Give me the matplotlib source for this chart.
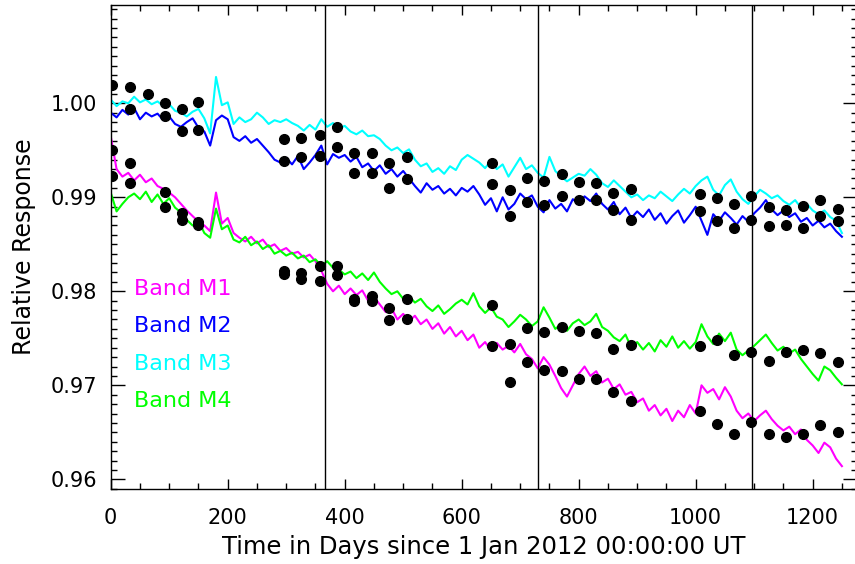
import numpy as np
import matplotlib
matplotlib.use('Agg')
import matplotlib.pyplot as plt
from matplotlib.ticker import MultipleLocator, FixedLocator, FormatStrFormatter

# daily samples read every 10 days (day 0 .. 1250)
days = np.arange(0, 1251, 10)

m1 = [0.9965, 0.9930, 0.9922, 0.9926, 0.9918, 0.9924, 0.9916, 0.9920, 0.9912, 0.9909,
      0.9905, 0.9900, 0.9893, 0.9886, 0.9880, 0.9874, 0.9870, 0.9864, 0.9905, 0.9872,
      0.9878, 0.9862, 0.9857, 0.9853, 0.9858, 0.9851, 0.9855, 0.9847, 0.9850, 0.9843,
      0.9846, 0.9840, 0.9842, 0.9836, 0.9839, 0.9832, 0.9822, 0.9808, 0.9800, 0.9806,
      0.9797, 0.9803, 0.9796, 0.9801, 0.9790, 0.9794, 0.9786, 0.9778, 0.9782, 0.9770,
      0.9776, 0.9768, 0.9774, 0.9765, 0.9770, 0.9760, 0.9766, 0.9755, 0.9762, 0.9752,
      0.9758, 0.9748, 0.9754, 0.9740, 0.9746, 0.9737, 0.9745, 0.9738, 0.9742, 0.9735,
      0.9744, 0.9733, 0.9728, 0.9718, 0.9730, 0.9722, 0.9710, 0.9697, 0.9688, 0.9700,
      0.9712, 0.9720, 0.9710, 0.9715, 0.9703, 0.9707, 0.9696, 0.9701, 0.9690, 0.9693,
      0.9682, 0.9686, 0.9673, 0.9679, 0.9668, 0.9675, 0.9662, 0.9673, 0.9666, 0.9679,
      0.9670, 0.9700, 0.9692, 0.9696, 0.9685, 0.9698, 0.9688, 0.9673, 0.9665, 0.9670,
      0.9662, 0.9668, 0.9673, 0.9664, 0.9657, 0.9652, 0.9656, 0.9648, 0.9653, 0.9642,
      0.9636, 0.9628, 0.9639, 0.9634, 0.9622, 0.9614]

m2 = [0.9990, 0.9985, 0.9993, 0.9988, 0.9995, 0.9983, 0.9990, 0.9986, 0.9989, 0.9982,
      0.9986, 0.9978, 0.9975, 0.9980, 0.9984, 0.9974, 0.9970, 0.9955, 0.9982, 0.9987,
      0.9983, 0.9964, 0.9960, 0.9965, 0.9958, 0.9962, 0.9955, 0.9948, 0.9940, 0.9937,
      0.9942, 0.9935, 0.9944, 0.9930, 0.9937, 0.9945, 0.9955, 0.9935, 0.9946, 0.9942,
      0.9945, 0.9938, 0.9943, 0.9932, 0.9936, 0.9928, 0.9934, 0.9925, 0.9930, 0.9922,
      0.9928, 0.9920, 0.9912, 0.9905, 0.9915, 0.9908, 0.9912, 0.9904, 0.9909, 0.9902,
      0.9910, 0.9906, 0.9912, 0.9903, 0.9892, 0.9899, 0.9885, 0.9900, 0.9887, 0.9893,
      0.9904, 0.9898, 0.9902, 0.9890, 0.9884, 0.9897, 0.9888, 0.9893, 0.9885, 0.9898,
      0.9893, 0.9901, 0.9896, 0.9904, 0.9893, 0.9887, 0.9895, 0.9882, 0.9889, 0.9878,
      0.9885, 0.9879, 0.9887, 0.9876, 0.9883, 0.9872, 0.9880, 0.9886, 0.9873, 0.9881,
      0.9890, 0.9875, 0.9860, 0.9882, 0.9875, 0.9884, 0.9878, 0.9871, 0.9880, 0.9874,
      0.9883, 0.9889, 0.9897, 0.9887, 0.9881, 0.9886, 0.9879, 0.9883, 0.9874, 0.9878,
      0.9870, 0.9875, 0.9868, 0.9872, 0.9864, 0.9858]

m3 = [1.0004, 0.9997, 1.0002, 1.0000, 1.0007, 1.0001, 1.0004, 0.9999, 1.0002, 0.9997,
      0.9999, 0.9992, 0.9990, 0.9986, 0.9991, 0.9994, 0.9984, 0.9968, 1.0028, 0.9998,
      1.0001, 0.9978, 0.9985, 0.9980, 0.9983, 0.9990, 0.9985, 0.9978, 0.9982, 0.9980,
      0.9983, 0.9979, 0.9976, 0.9971, 0.9977, 0.9972, 0.9983, 0.9975, 0.9979, 0.9973,
      0.9976, 0.9970, 0.9967, 0.9971, 0.9965, 0.9966, 0.9962, 0.9955, 0.9950, 0.9953,
      0.9947, 0.9951, 0.9940, 0.9933, 0.9936, 0.9927, 0.9931, 0.9925, 0.9933, 0.9929,
      0.9940, 0.9945, 0.9941, 0.9937, 0.9931, 0.9939, 0.9930, 0.9935, 0.9922, 0.9932,
      0.9942, 0.9930, 0.9934, 0.9926, 0.9921, 0.9943, 0.9928, 0.9922, 0.9917, 0.9921,
      0.9925, 0.9923, 0.9930, 0.9924, 0.9915, 0.9911, 0.9918, 0.9912, 0.9906, 0.9900,
      0.9903, 0.9897, 0.9902, 0.9899, 0.9906, 0.9901, 0.9896, 0.9903, 0.9909, 0.9904,
      0.9912, 0.9918, 0.9922, 0.9908, 0.9902, 0.9913, 0.9919, 0.9906, 0.9898, 0.9893,
      0.9901, 0.9908, 0.9904, 0.9899, 0.9902, 0.9896, 0.9892, 0.9897, 0.9889, 0.9893,
      0.9886, 0.9882, 0.9886, 0.9879, 0.9875, 0.9862]

m4 = [0.9905, 0.9885, 0.9893, 0.9900, 0.9904, 0.9898, 0.9906, 0.9895, 0.9903, 0.9893,
      0.9899, 0.9889, 0.9884, 0.9876, 0.9870, 0.9875, 0.9862, 0.9857, 0.9888, 0.9866,
      0.9870, 0.9855, 0.9852, 0.9858, 0.9849, 0.9853, 0.9845, 0.9849, 0.9840, 0.9843,
      0.9838, 0.9841, 0.9835, 0.9838, 0.9831, 0.9834, 0.9827, 0.9832, 0.9825, 0.9823,
      0.9818, 0.9821, 0.9814, 0.9819, 0.9812, 0.9820, 0.9810, 0.9803, 0.9797, 0.9800,
      0.9792, 0.9795, 0.9788, 0.9792, 0.9784, 0.9779, 0.9785, 0.9776, 0.9781, 0.9787,
      0.9791, 0.9786, 0.9798, 0.9784, 0.9777, 0.9783, 0.9773, 0.9770, 0.9762, 0.9768,
      0.9775, 0.9770, 0.9763, 0.9768, 0.9783, 0.9772, 0.9760, 0.9765, 0.9758, 0.9766,
      0.9770, 0.9764, 0.9768, 0.9776, 0.9762, 0.9758, 0.9751, 0.9747, 0.9754, 0.9740,
      0.9746, 0.9738, 0.9745, 0.9736, 0.9748, 0.9741, 0.9752, 0.9740, 0.9747, 0.9739,
      0.9746, 0.9765, 0.9752, 0.9744, 0.9755, 0.9747, 0.9756, 0.9738, 0.9732, 0.9737,
      0.9742, 0.9748, 0.9754, 0.9745, 0.9737, 0.9741, 0.9734, 0.9738, 0.9728, 0.9720,
      0.9712, 0.9705, 0.9720, 0.9716, 0.9708, 0.9701]

# lunar calibration points (black dots)
dot_days = [3, 33, 63, 92, 121, 150, 297, 326, 357, 386, 416, 446, 476, 506, 652, 682,
            712, 741, 771, 800, 830, 859, 889, 1007, 1036, 1065, 1095, 1125, 1155, 1184,
            1213, 1243]
nan = np.nan
dot_m3 = [1.0019, 1.0017, 1.0010, 1.0000, 0.9994, 1.0001, 0.9962, 0.9963, 0.9966, 0.9975,
          0.9947, 0.9947, 0.9937, 0.9943, 0.9937, 0.9908, 0.9921, 0.9917, 0.9925, 0.9916,
          0.9915, 0.9905, 0.9909, 0.9904, 0.9899, 0.9893, 0.9901, 0.9890, 0.9887, 0.9891,
          0.9897, 0.9888]
dot_m2 = [nan, 0.9994, nan, 0.9987, 0.9970, 0.9972, 0.9939, 0.9943, 0.9944, 0.9954,
          0.9926, 0.9926, 0.9910, 0.9919, 0.9914, 0.9880, 0.9895, 0.9892, 0.9901, 0.9897,
          0.9897, 0.9886, 0.9876, 0.9885, 0.9875, 0.9867, 0.9876, 0.9869, 0.9870, 0.9867,
          0.9880, 0.9875]
dot_m4 = [0.9950, 0.9936, nan, 0.9906, 0.9883, 0.9874, 0.9822, 0.9819, 0.9827, 0.9827,
          0.9792, 0.9795, 0.9782, 0.9792, 0.9785, 0.9744, 0.9761, 0.9757, 0.9762, 0.9758,
          0.9756, 0.9739, 0.9743, 0.9742, 0.9748, 0.9732, 0.9735, 0.9726, 0.9735, 0.9738,
          0.9734, 0.9725]
dot_m1 = [0.9923, 0.9915, nan, 0.9890, 0.9876, 0.9871, 0.9818, 0.9813, 0.9811, 0.9817,
          0.9790, 0.9790, 0.9769, 0.9771, 0.9742, 0.9703, 0.9725, 0.9716, 0.9715, 0.9707,
          0.9707, 0.9693, 0.9683, 0.9673, 0.9659, 0.9648, 0.9661, 0.9648, 0.9645, 0.9648,
          0.9658, 0.9650]

year_marks = [366, 731, 1096]
bands = ['Band M1', 'Band M2', 'Band M3', 'Band M4']
colors = ['#ff00ff', '#0000ff', '#00ffff', '#00ff00']
ytick_vals = [0.96, 0.97, 0.98, 0.99, 1.00]

plt.rcParams['font.family'] = ['DejaVu Sans']

fig = plt.figure(figsize=(8.55, 5.64), dpi=100)
ax = fig.add_axes([0.1295, 0.133, 0.8723, 0.8582])

for series, col in zip([m1, m2, m3, m4], colors):
    ax.plot(days, series, color=col, lw=1.5)

for yr in year_marks:
    ax.axvline(yr, color='black', lw=1.0)

for dots in [dot_m3, dot_m2, dot_m4, dot_m1]:
    ax.plot(dot_days, dots, 'o', color='black', ms=7, zorder=5)

# legend as coloured labels
leg_y = [0.9802, 0.9763, 0.9723, 0.9683]
for txt, col, yy in zip(bands, colors, leg_y):
    ax.text(39, yy, txt, color=col, fontsize=16, va='center', ha='left')

ax.set_xlim(0, 1275)
ax.set_ylim(0.95897, 1.01046)
ax.xaxis.set_major_locator(MultipleLocator(200))
ax.xaxis.set_minor_locator(MultipleLocator(50))
ax.yaxis.set_major_locator(FixedLocator(ytick_vals))
ax.yaxis.set_minor_locator(MultipleLocator(0.001))
ax.yaxis.set_major_formatter(FormatStrFormatter('%.2f'))
ax.tick_params(which='both', direction='in', top=True, right=True, width=1.0,
               labelsize=15, color='black')
ax.tick_params(axis='x', which='major', length=7, pad=14)
ax.tick_params(axis='x', which='minor', length=4)
ax.tick_params(axis='y', which='major', length=10, pad=10)
ax.tick_params(axis='y', which='minor', length=4.5)
for sp in ax.spines.values():
    sp.set_linewidth(1.0)

ax.set_xlabel('Time in Days since 1 Jan 2012 00:00:00 UT', fontsize=17.5, labelpad=5)
ax.set_ylabel('Relative Response', fontsize=17, labelpad=10)

plt.savefig('out.png', dpi=100)
